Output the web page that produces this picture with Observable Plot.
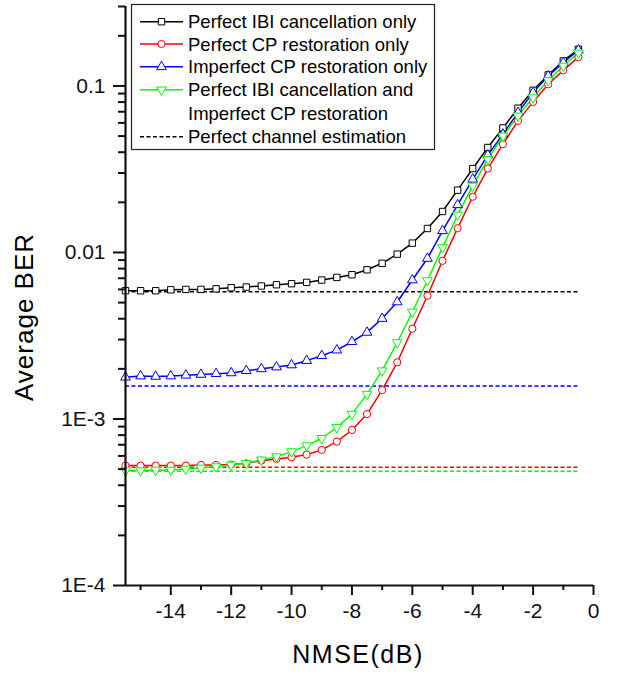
<!DOCTYPE html>
<html>
<head>
<meta charset="utf-8">
<script src="https://cdn.jsdelivr.net/npm/d3@7"></script>
<script src="https://cdn.jsdelivr.net/npm/@observablehq/plot@0.6"></script>
<style>
  body { margin: 0; background: #fff; }
  #wrap { position: relative; width: 618px; height: 675px; font-family: "Liberation Sans", Arial, sans-serif; }
  .ytitle { position: absolute; left: 24px; top: 317px; transform: translate(-50%, -50%) rotate(-90deg); font-size: 26px; letter-spacing: 1px; white-space: nowrap; color: #000; }
  .xtitle { position: absolute; left: 358px; top: 640px; transform: translateX(-50%); font-size: 25px; letter-spacing: 1.5px; white-space: nowrap; color: #000; }
</style>
</head>
<body>
<div id="wrap"></div>
<script>
// NMSE (dB) sample points
const nmse = [-15.5, -15, -14.5, -14, -13.5, -13, -12.5, -12, -11.5, -11, -10.5, -10, -9.5, -9, -8.5, -8,
  -7.5, -7, -6.5, -6, -5.5, -5, -4.5, -4, -3.5, -3, -2.5, -2, -1.5, -1, -0.5];

// Average BER per series
const berIBIOnly = [0.00589, 0.00589, 0.00589, 0.00597, 0.00600, 0.00600, 0.00605, 0.00614, 0.00620, 0.00629,
  0.00640, 0.00649, 0.00661, 0.00683, 0.00708, 0.00735, 0.00787, 0.00861, 0.00977, 0.01138,
  0.01393, 0.01762, 0.02366, 0.0319, 0.0427, 0.0560, 0.0735, 0.0942, 0.1164, 0.1413, 0.166];
const berCPOnly = [0.000525, 0.000525, 0.000525, 0.000525, 0.000525, 0.000530, 0.000530, 0.000532, 0.000542, 0.000562,
  0.000575, 0.000589, 0.000611, 0.000652, 0.000731, 0.000859, 0.00107, 0.00149, 0.00219, 0.00348,
  0.00550, 0.00891, 0.0140, 0.0216, 0.0319, 0.0447, 0.0617, 0.0802, 0.1023, 0.124, 0.149];
const berImpCPOnly = [0.00178, 0.00181, 0.00180, 0.00181, 0.00183, 0.00185, 0.00187, 0.00189, 0.00195, 0.00200,
  0.00205, 0.00211, 0.00224, 0.00240, 0.00259, 0.00291, 0.00331, 0.00401, 0.00504, 0.00683,
  0.00920, 0.01349, 0.01932, 0.0275, 0.0384, 0.0513, 0.0692, 0.0912, 0.1148, 0.138, 0.164];
const berIBIAndImpCP = [0.000490, 0.000490, 0.000494, 0.000494, 0.000501, 0.000508, 0.000518, 0.000530, 0.000542, 0.000568,
  0.000594, 0.000637, 0.000692, 0.000766, 0.000891, 0.00107, 0.00141, 0.00195, 0.00288, 0.00439,
  0.00679, 0.01072, 0.0168, 0.0251, 0.0363, 0.0501, 0.0661, 0.0851, 0.1081, 0.1318, 0.158];

// Perfect channel estimation levels (same order as series)
const perfectCE = [0.00581, 0.000513, 0.00158, 0.000485];

const seriesLabels = [
  ["Perfect IBI cancellation only"],
  ["Perfect CP restoration only"],
  ["Imperfect CP restoration only"],
  ["Perfect IBI cancellation and", "Imperfect CP restoration"]
];
const dashedLabel = "Perfect channel estimation";
const seriesColors = ["#000000", "#ff0000", "#0000ff", "#00ff00"];

const xMajorTicks = [-14, -12, -10, -8, -6, -4, -2, 0];
const xMinorTicks = [-15, -13, -11, -9, -7, -5, -3, -1];
const yMajorTicks = [1e-4, 1e-3, 1e-2, 1e-1];
const yMajorLabels = ["1E-4", "1E-3", "0.01", "0.1"];
const yMinorTicks = [2e-4, 3e-4, 4e-4, 5e-4, 6e-4, 7e-4, 8e-4, 9e-4,
  2e-3, 3e-3, 4e-3, 5e-3, 6e-3, 7e-3, 8e-3, 9e-3,
  0.02, 0.03, 0.04, 0.05, 0.06, 0.07, 0.08, 0.09, 0.2, 0.3];

// down-pointing triangle symbol
const triangleDown = {
  draw(context, size) {
    const y = -Math.sqrt(size / (Math.sqrt(3) * 3));
    const s3 = Math.sqrt(3);
    context.moveTo(0, -y * 2);
    context.lineTo(-s3 * y, y);
    context.lineTo(s3 * y, y);
    context.closePath();
  }
};
const symbolTypes = [d3.symbolSquare, d3.symbolCircle, d3.symbolTriangle, triangleDown];
const seriesData = [berIBIOnly, berCPOnly, berImpCPOnly, berIBIAndImpCP];

const series = seriesData.map((vals, k) => vals.map((v, i) => ({x: nmse[i], y: v, k})));
const perfectRows = perfectCE.map((v, k) => ({y: v, k}));

const font = "'Liberation Sans', Arial, sans-serif";

const marks = [];
// dashed perfect channel estimation
marks.push(Plot.ruleY(perfectRows, {
  y: "y", x1: nmse[0], x2: nmse[nmse.length - 1],
  stroke: d => seriesColors[d.k], strokeWidth: 1.5, strokeDasharray: "4,2.5"
}));
// series lines + markers
series.forEach((rows, k) => {
  marks.push(Plot.line(rows, {x: "x", y: "y", stroke: seriesColors[k], strokeWidth: 1.5}));
});
series.forEach((rows, k) => {
  marks.push(Plot.dot(rows, {x: "x", y: "y", stroke: seriesColors[k], fill: "white", strokeWidth: 1, r: 3.6, symbol: symbolTypes[k]}));
});
// axes
marks.push(Plot.ruleY([1e-4], {strokeWidth: 2.2}));
marks.push(Plot.ruleX([-15.5], {strokeWidth: 2.2}));
marks.push(Plot.axisX({ticks: xMinorTicks, anchor: "bottom", tickSize: 5, strokeWidth: 2, tickFormat: () => "", label: null}));
marks.push(Plot.axisX({ticks: xMajorTicks, anchor: "bottom", tickSize: 10, tickPadding: 8, strokeWidth: 2, fontSize: 21, tickFormat: d => String(d), label: null}));
marks.push(Plot.axisY({ticks: yMinorTicks, anchor: "left", tickSize: 7, strokeWidth: 2, tickFormat: () => "", label: null}));
marks.push(Plot.axisY({ticks: yMajorTicks, anchor: "left", tickSize: 12, tickPadding: 8, strokeWidth: 2, fontSize: 21, tickFormat: d => yMajorLabels[yMajorTicks.indexOf(d)], label: null}));

const chart = Plot.plot({
  width: 618,
  height: 675,
  marginLeft: 125,
  marginRight: 25,
  marginTop: 6,
  marginBottom: 90,
  style: {fontFamily: font, background: "white", overflow: "visible", color: "#111"},
  x: {domain: [-15.5, 0], label: null},
  y: {type: "log", domain: [1e-4, 0.3], label: null},
  marks
});

const wrap = document.getElementById("wrap");
wrap.appendChild(chart);

// Legend (drawn into the same svg)
const svg = d3.select(chart);
const lg = svg.append("g").attr("font-family", font).attr("font-size", 18.5).attr("text-anchor", "start");
lg.append("rect").attr("x", 131.5).attr("y", 4.5).attr("width", 303).attr("height", 145)
  .attr("fill", "white").attr("stroke", "#222").attr("stroke-width", 1.2);
const rowY = [21.7, 44, 66.8, 89.8];
const textX = 188;
seriesLabels.forEach((lines, k) => {
  const y = rowY[k];
  lg.append("line").attr("x1", 140).attr("x2", 183).attr("y1", y).attr("y2", y)
    .attr("stroke", seriesColors[k]).attr("stroke-width", 1.5);
  lg.append("path").attr("transform", `translate(161.5,${y})`)
    .attr("d", d3.symbol(symbolTypes[k], Math.PI * 3.6 * 3.6)())
    .attr("fill", "white").attr("stroke", seriesColors[k]).attr("stroke-width", 1);
  lines.forEach((t, j) => {
    lg.append("text").attr("x", textX).attr("y", y + 6.6 + j * 23.5).attr("text-anchor", "start").text(t).attr("fill", "#000");
  });
});
const dashY = 136.7;
lg.append("line").attr("x1", 140).attr("x2", 183).attr("y1", dashY).attr("y2", dashY)
  .attr("stroke", "#000").attr("stroke-width", 1.5).attr("stroke-dasharray", "4,2.5");
lg.append("text").attr("x", textX).attr("y", dashY + 6.6).attr("text-anchor", "start").text(dashedLabel).attr("fill", "#000");

// Axis titles
const yt = document.createElement("div");
yt.className = "ytitle"; yt.textContent = "Average BER";
wrap.appendChild(yt);
const xt = document.createElement("div");
xt.className = "xtitle"; xt.textContent = "NMSE(dB)";
wrap.appendChild(xt);
</script>
</body>
</html>
